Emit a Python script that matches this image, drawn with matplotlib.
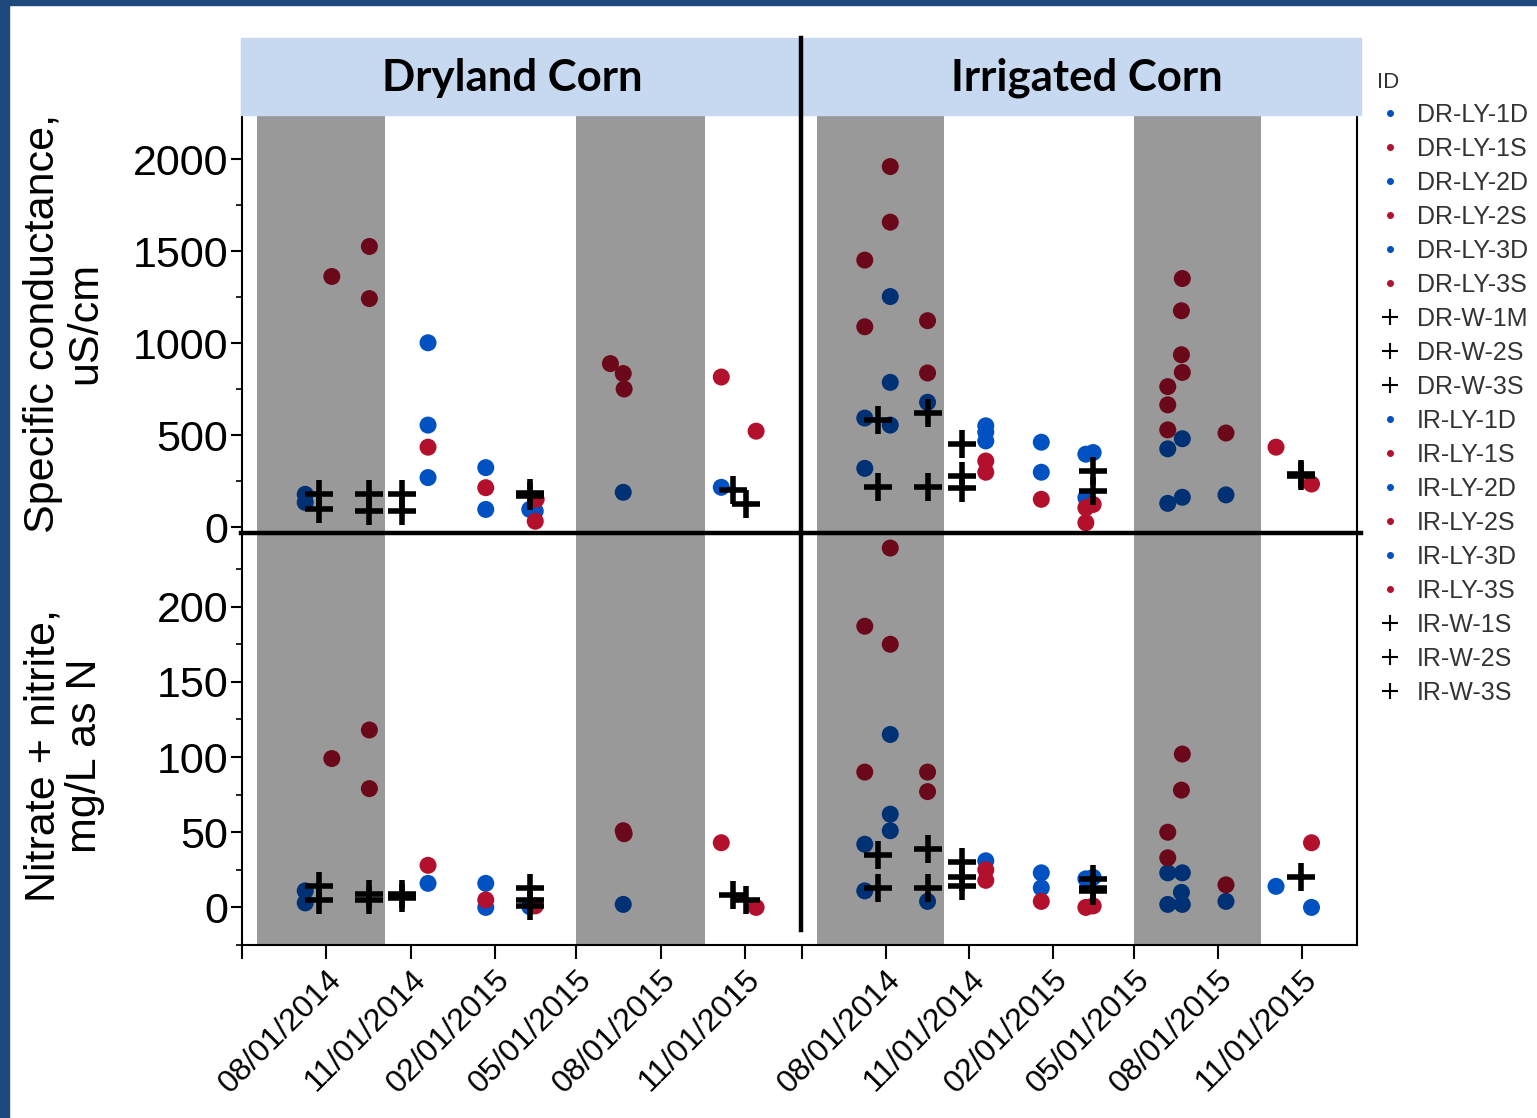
import numpy as np
import pandas as pd
from matplotlib import pyplot as plt
from matplotlib.lines import Line2D
from matplotlib.patches import Rectangle

plt.rcParams['font.family'] = ['Liberation Sans', 'DejaVu Sans']

# groups: D = deep lysimeter (blue), S = shallow lysimeter (red), W = well (+)
dr_sc = [
    ("2014-07-09", 180, "D"), ("2014-07-09", 136, "D"),
    ("2014-11-20", 1003, "D"), ("2014-11-20", 556, "D"), ("2014-11-20", 271, "D"),
    ("2015-01-22", 325, "D"), ("2015-01-22", 98, "D"),
    ("2015-03-11", 98, "D"), ("2015-03-17", 89, "D"),
    ("2015-06-21", 191, "D"), ("2015-10-06", 218, "D"),
    ("2014-08-07", 1363, "S"), ("2014-09-17", 1526, "S"), ("2014-09-17", 1243, "S"),
    ("2014-11-20", 436, "S"), ("2015-01-22", 216, "S"),
    ("2015-03-18", 153, "S"), ("2015-03-17", 34, "S"),
    ("2015-06-07", 890, "S"), ("2015-06-21", 836, "S"), ("2015-06-22", 752, "S"),
    ("2015-10-06", 817, "S"), ("2015-11-13", 523, "S"),
    ("2014-07-24", 180, "W"), ("2014-07-24", 98, "W"),
    ("2014-09-17", 180, "W"), ("2014-09-17", 89, "W"),
    ("2014-10-23", 180, "W"), ("2014-10-23", 89, "W"),
    ("2015-03-11", 185, "W"), ("2015-03-11", 170, "W"),
    ("2015-10-19", 202, "W"), ("2015-11-02", 125, "W"),
]

dr_no3 = [
    ("2014-07-09", 11, "D"), ("2014-07-09", 3, "D"), ("2014-11-20", 16, "D"),
    ("2015-01-22", 16, "D"), ("2015-01-22", 0, "D"), ("2015-03-11", 0.5, "D"),
    ("2015-06-21", 2, "D"),
    ("2014-08-07", 99, "S"), ("2014-09-17", 118, "S"), ("2014-09-17", 79, "S"),
    ("2014-11-20", 28, "S"), ("2015-01-22", 5, "S"), ("2015-03-17", 1, "S"),
    ("2015-06-21", 51, "S"), ("2015-06-22", 49, "S"), ("2015-10-06", 43, "S"),
    ("2015-11-13", 0, "S"),
    ("2014-07-24", 14, "W"), ("2014-07-24", 5, "W"),
    ("2014-09-17", 9, "W"), ("2014-09-17", 5, "W"),
    ("2014-10-23", 9, "W"), ("2014-10-23", 6, "W"),
    ("2015-03-11", 13, "W"), ("2015-03-11", 5, "W"), ("2015-03-11", 1, "W"),
    ("2015-10-19", 8, "W"), ("2015-11-02", 5, "W"),
]

ir_sc = [
    ("2014-07-09", 594, "D"), ("2014-07-09", 321, "D"),
    ("2014-08-06", 1254, "D"), ("2014-08-06", 788, "D"), ("2014-08-06", 556, "D"),
    ("2014-09-16", 680, "D"),
    ("2014-11-19", 552, "D"), ("2014-11-19", 518, "D"), ("2014-11-19", 470, "D"),
    ("2015-01-19", 463, "D"), ("2015-01-19", 300, "D"),
    ("2015-03-09", 398, "D"), ("2015-03-17", 407, "D"), ("2015-03-09", 162, "D"),
    ("2015-06-07", 427, "D"), ("2015-06-07", 131, "D"),
    ("2015-06-23", 482, "D"), ("2015-06-23", 164, "D"), ("2015-08-10", 177, "D"),
    ("2014-07-09", 1452, "S"), ("2014-07-09", 1090, "S"),
    ("2014-08-06", 1960, "S"), ("2014-08-06", 1658, "S"),
    ("2014-09-16", 1123, "S"), ("2014-09-16", 839, "S"),
    ("2014-11-19", 361, "S"), ("2014-11-19", 300, "S"),
    ("2015-01-19", 153, "S"),
    ("2015-03-09", 107, "S"), ("2015-03-17", 125, "S"), ("2015-03-09", 26, "S"),
    ("2015-06-07", 765, "S"), ("2015-06-07", 666, "S"), ("2015-06-07", 530, "S"),
    ("2015-06-23", 1352, "S"), ("2015-06-22", 1177, "S"), ("2015-06-22", 938, "S"),
    ("2015-06-23", 842, "S"), ("2015-08-10", 513, "S"),
    ("2015-10-04", 436, "S"), ("2015-11-12", 236, "S"),
    ("2014-07-24", 583, "W"), ("2014-07-24", 220, "W"),
    ("2014-09-16", 621, "W"), ("2014-09-16", 220, "W"),
    ("2014-10-24", 452, "W"), ("2014-10-24", 280, "W"), ("2014-10-24", 212, "W"),
    ("2015-03-17", 307, "W"), ("2015-03-17", 198, "W"),
    ("2015-10-31", 278, "W"), ("2015-10-31", 290, "W"),
]

ir_no3 = [
    ("2014-07-09", 42, "D"), ("2014-07-09", 11, "D"),
    ("2014-08-06", 115, "D"), ("2014-08-06", 62, "D"), ("2014-08-06", 51, "D"),
    ("2014-09-16", 4, "D"), ("2014-11-19", 31, "D"),
    ("2015-01-19", 23, "D"), ("2015-01-19", 13, "D"),
    ("2015-03-09", 19, "D"), ("2015-03-17", 20, "D"),
    ("2015-06-07", 23, "D"), ("2015-06-23", 23, "D"), ("2015-06-22", 10, "D"),
    ("2015-06-07", 2, "D"), ("2015-06-23", 2, "D"), ("2015-08-10", 4, "D"),
    ("2015-10-04", 14, "D"), ("2015-11-12", 0, "D"),
    ("2014-07-09", 187, "S"), ("2014-07-09", 90, "S"),
    ("2014-08-06", 239, "S"), ("2014-08-06", 175, "S"),
    ("2014-09-16", 90, "S"), ("2014-09-16", 77, "S"),
    ("2014-11-19", 25, "S"), ("2014-11-19", 18, "S"),
    ("2015-01-19", 4, "S"), ("2015-03-09", 0, "S"), ("2015-03-17", 1, "S"),
    ("2015-06-23", 102, "S"), ("2015-06-22", 78, "S"),
    ("2015-06-07", 50, "S"), ("2015-06-07", 33, "S"),
    ("2015-08-10", 15, "S"), ("2015-11-12", 43, "S"),
    ("2014-07-24", 35, "W"), ("2014-07-24", 13, "W"),
    ("2014-09-16", 39, "W"), ("2014-09-16", 13, "W"),
    ("2014-10-24", 30, "W"), ("2014-10-24", 20, "W"), ("2014-10-24", 14, "W"),
    ("2015-03-17", 19, "W"), ("2015-03-17", 13, "W"), ("2015-03-17", 11, "W"),
    ("2015-10-31", 20, "W"),
]

ids = ["DR-LY-1D", "DR-LY-1S", "DR-LY-2D", "DR-LY-2S", "DR-LY-3D", "DR-LY-3S",
       "DR-W-1M", "DR-W-2S", "DR-W-3S",
       "IR-LY-1D", "IR-LY-1S", "IR-LY-2D", "IR-LY-2S", "IR-LY-3D", "IR-LY-3S",
       "IR-W-1S", "IR-W-2S", "IR-W-3S"]

growing_seasons = [("2014-05-17", "2014-10-04"), ("2015-05-01", "2015-09-18")]
tick_dates = ["2014-05-01", "2014-08-01", "2014-11-01", "2015-02-01",
              "2015-05-01", "2015-08-01", "2015-11-01"]
tick_labels = ["", "08/01/2014", "11/01/2014", "02/01/2015",
               "05/01/2015", "08/01/2015", "11/01/2015"]
x_range = ("2014-05-01", "2016-01-01")
panel_titles = ["Dryland Corn", "Irrigated Corn"]
ylabels = ["Specific conductance,\nuS/cm", "Nitrate + nitrite,\nmg/L as N"]

BLUE = "#0052C2"
RED = "#B3102E"

W, H = 1537, 1118
fig = plt.figure(figsize=(W / 100, H / 100), dpi=100)

def fx(px):
    return px / W

def fy(py):
    return 1 - py / H

# navy frame
fig.add_artist(Rectangle((0, 0), fx(9), 1, transform=fig.transFigure, color="#1F497D", zorder=0))
fig.add_artist(Rectangle((0, fy(5)), 1, fy(0) - fy(5), transform=fig.transFigure, color="#1F497D", zorder=0))

col_x = [(242, 801), (802, 1357)]
row_y = [(115, 533), (533, 945)]
data = [[dr_sc, ir_sc], [dr_no3, ir_no3]]
ylims = [(-30, 2240), (-25, 249)]

axes = [[None, None], [None, None]]
for r in range(2):
    for c in range(2):
        x0, x1 = col_x[c]
        y0, y1 = row_y[r]
        ax = fig.add_axes([fx(x0), fy(y1), fx(x1 - x0), fy(y0) - fy(y1)])
        axes[r][c] = ax
        df = pd.DataFrame(data[r][c], columns=["date", "value", "grp"])
        df["date"] = pd.to_datetime(df["date"])
        for g, col in [("D", BLUE), ("S", RED)]:
            sub = df[df.grp == g]
            ax.scatter(sub.date, sub.value, s=150, color=col, edgecolors="none", zorder=2)
        sub = df[df.grp == "W"]
        ax.plot(sub.date, sub.value, linestyle="None", marker="+", markersize=20,
                markeredgewidth=4, color="black", zorder=5)
        # growing season shading sits on top of the dots, darkening them
        for a, b in growing_seasons:
            ax.axvspan(pd.Timestamp(a), pd.Timestamp(b), color="black", alpha=0.4,
                       linewidth=0, zorder=3)
        ax.set_xlim(pd.Timestamp(x_range[0]), pd.Timestamp(x_range[1]))
        ax.set_ylim(*ylims[r])
        ax.spines["top"].set_visible(False)
        for sp in ax.spines.values():
            sp.set_linewidth(1.5)
        if c == 0:
            ax.spines["right"].set_visible(False)
            ax.tick_params(axis="y", labelsize=31, length=8, width=1.5, pad=2)
            ax.tick_params(axis="y", which="minor", length=4, width=1.2)
        else:
            ax.spines["left"].set_visible(False)
            ax.set_yticks([])
            ax.set_yticks([], minor=True)
        if r == 0:
            ax.spines["bottom"].set_visible(False)
            ax.set_xticks([])
        else:
            ax.set_xticks([pd.Timestamp(d) for d in tick_dates])
            ax.set_xticklabels(tick_labels, rotation=45, ha="right",
                               rotation_mode="anchor", fontsize=23)
            ax.tick_params(axis="x", length=10, width=1.5, pad=4)
        ax.set_facecolor("none")

axes[0][0].set_yticks([0, 500, 1000, 1500, 2000])
axes[0][0].set_yticks(np.arange(250, 2250, 500), minor=True)
axes[1][0].set_yticks([0, 50, 100, 150, 200])
axes[1][0].set_yticks(list(np.arange(-25, 250, 50)), minor=True)

# header strips
strip_x = [(241, 800), (803, 1361)]
title_x = [512, 1087]
for (a, b), t, tx in zip(strip_x, panel_titles, title_x):
    fig.add_artist(Rectangle((fx(a), fy(115)), fx(b - a), fy(38) - fy(115),
                             transform=fig.transFigure, color="#C6D9F0", zorder=1))
    fig.text(fx(tx), fy(78), t, ha="center", va="center", fontsize=31.5,
             fontweight="bold", family=["Lato", "DejaVu Sans"])

# divider lines
fig.add_artist(Line2D([fx(241), fx(1361)], [fy(533), fy(533)], color="black", lw=3.2, zorder=10))
fig.add_artist(Line2D([fx(801), fx(801)], [fy(38), fy(930)], color="black", lw=3.2, zorder=10))

# y labels
fig.text(fx(64), fy(323), ylabels[0], rotation=90, ha="center", va="center",
         fontsize=31, multialignment="center", linespacing=1.05)
fig.text(fx(64), fy(756), ylabels[1], rotation=90, ha="center", va="center",
         fontsize=31, multialignment="center", linespacing=1.05)

# legend
handles = []
for name in ids:
    if "-W-" in name:
        h = Line2D([], [], linestyle="None", marker="+", markersize=11,
                   markeredgewidth=1.5, color="black")
    else:
        h = Line2D([], [], linestyle="None", marker="o", markersize=4,
                   color=BLUE if name.endswith("D") else RED)
    handles.append(h)
leg = fig.legend(handles, ids, loc="upper left", bbox_to_anchor=(fx(1367), fy(62)),
                 frameon=False, title="ID", fontsize=18, title_fontsize=16,
                 alignment="left", labelspacing=0.4, handletextpad=0.6,
                 handlelength=1.0, borderaxespad=0)
for t in leg.get_texts():
    t.set_color("#333333")
leg.get_title().set_color("#333333")

fig.savefig("out.png", dpi=100)
